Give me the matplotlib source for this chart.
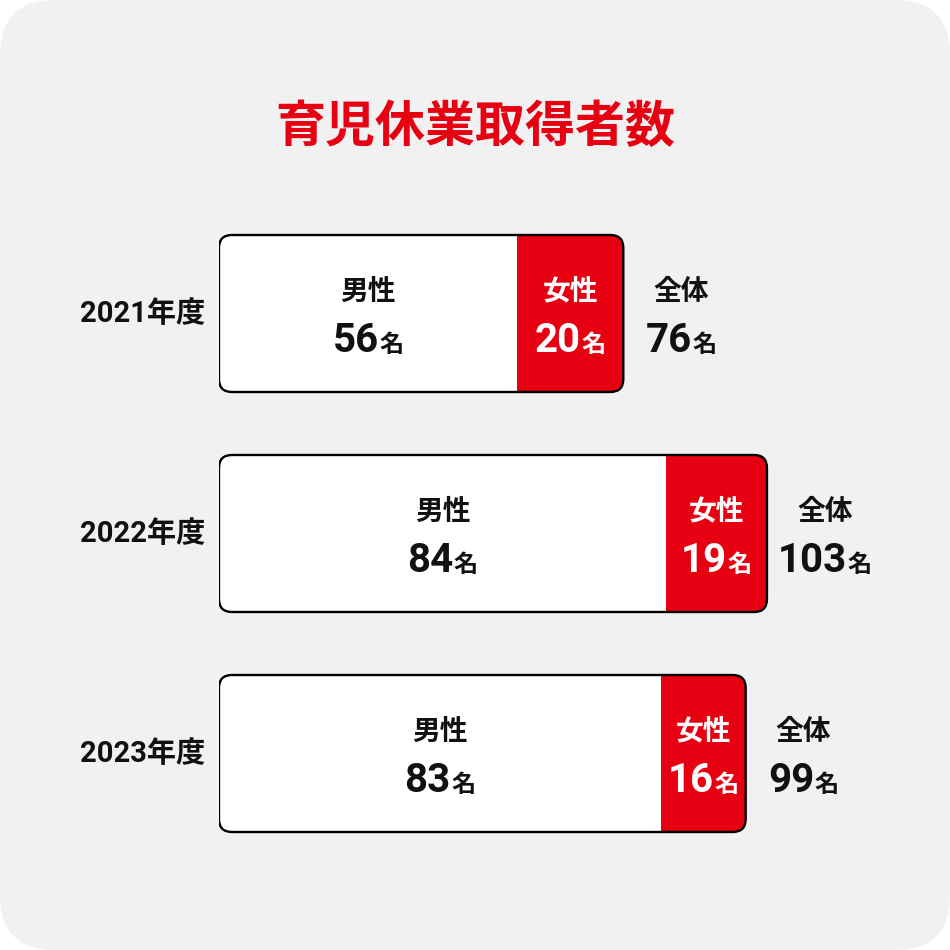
import matplotlib.pyplot as plt
from matplotlib.patches import FancyBboxPatch
from matplotlib.transforms import offset_copy

# data
years = ['2021年度', '2022年度', '2023年度']
male = [56, 84, 83]
female = [20, 19, 16]
total = [76, 103, 99]

RED = '#e60012'
JP = ['Noto Sans CJK JP', 'DejaVu Sans']
NUM = ['Roboto', 'Noto Sans CJK JP']
plt.rcParams['font.family'] = JP

W = 950
px_per = 5.32      # pixels per person
x0 = 219           # left edge of bars (px)
spacing = 220      # px between bar centres
bar_px = 157
first_center = 313.5
corner = 13

fig = plt.figure(figsize=(9.5, 9.5), dpi=100)
fig.patch.set_facecolor('white')
bg = FancyBboxPatch((0, 0), 1, 1, boxstyle='round,pad=0,rounding_size=0.058',
                    transform=fig.transFigure, facecolor='#f1f1f1', edgecolor='none',
                    zorder=-10)
fig.patches.append(bg)

fig.text(0.5, 1 - 127 / W, '育児休業取得者数', ha='center', va='center',
         fontsize=36, fontweight='bold', color=RED)

ax = fig.add_axes([x0 / W, 0, 1 - x0 / W, 1])
ax.set_xlim(0, (W - x0) / px_per)
ax.set_ylim((W - first_center) / spacing, -first_center / spacing)
ax.axis('off')

h = bar_px / spacing
r = corner / px_per
ma = px_per / spacing
renderer = fig.canvas.get_renderer()


def off(dx, dy):
    return offset_copy(ax.transData, fig=fig, x=dx, y=dy, units='dots')


def num_label(x, y, value, color, dx=0, dy=-38):
    t1 = ax.text(x, y, str(value), fontsize=29, fontweight='bold', family=NUM,
                 color=color, ha='left', va='baseline', zorder=5)
    t2 = ax.text(x, y, '名', fontsize=17.5, fontweight='bold', color=color,
                 ha='left', va='baseline', zorder=5)
    w1 = t1.get_window_extent(renderer).width
    w2 = t2.get_window_extent(renderer).width
    gap = 0.5
    tot = w1 + w2 + gap
    t1.set_transform(off(dx - tot / 2, dy))
    t2.set_transform(off(dx - tot / 2 + w1 + gap, dy))


for i in range(len(years)):
    box = FancyBboxPatch((0, i - h / 2), total[i], h,
                         boxstyle=f'round,pad=0,rounding_size={r}', mutation_aspect=ma,
                         facecolor='none', edgecolor='black', lw=1.7, zorder=3)
    ax.add_patch(box)
    b1 = ax.barh(i, male[i], height=h, color='white', zorder=1)
    b2 = ax.barh(i, female[i], left=male[i], height=h, color=RED, zorder=1)
    for rect in list(b1) + list(b2):
        rect.set_clip_path(box)

    # year label
    ax.text(0, i, years[i], transform=off(-14, 0), ha='right', va='center',
            fontsize=21, fontweight='bold', family=NUM, color='#111111')

    # male
    mx = male[i] / 2
    ax.text(mx, i, '男性', transform=off(0, 22), ha='center', va='center',
            fontsize=20, fontweight='bold', color='#111111', zorder=5)
    num_label(mx, i, male[i], '#111111')

    # female
    fx = male[i] + female[i] / 2
    ax.text(fx, i, '女性', transform=off(0, 22), ha='center', va='center',
            fontsize=20, fontweight='bold', color='white', zorder=5)
    num_label(fx, i, female[i], 'white')

    # total
    ax.text(total[i], i, '全体', transform=off(58, 22), ha='center', va='center',
            fontsize=20, fontweight='bold', color='#111111', zorder=5)
    num_label(total[i], i, total[i], '#111111', dx=58)

fig.savefig('out.png', dpi=100)
